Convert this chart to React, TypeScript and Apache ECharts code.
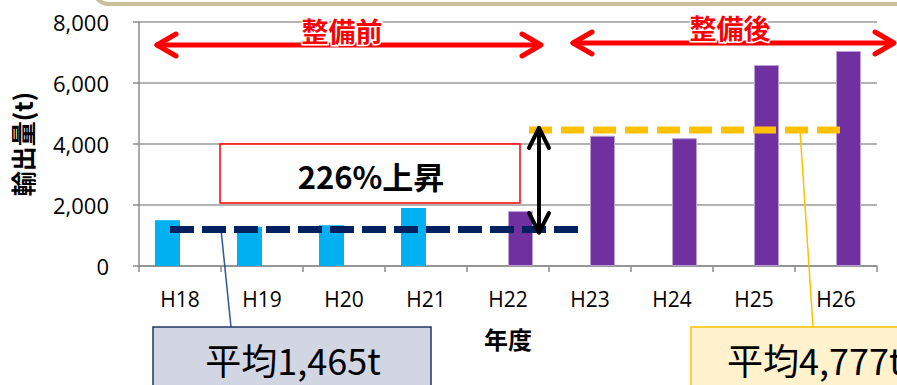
import React, { useEffect, useRef } from "react";
import * as echarts from "echarts";

const categories = ["H18", "H19", "H20", "H21", "H22", "H23", "H24", "H25", "H26"];
const beforeValues = [1500, 1290, 1340, 1900, null, null, null, null, null];
const afterValues = [null, null, null, null, 1800, 4270, 4190, 6590, 7050];
const yTicks = { min: 0, max: 8000, interval: 2000 };
const beforeAvgLine = 1200;
const afterAvgLine = 4460;
const beforeLabel = "平均1,465t";
const afterLabel = "平均4,777t";
const riseLabel = "226%上昇";

export default function App() {
  const ref = useRef<HTMLDivElement>(null);
  useEffect(() => {
    if (!ref.current) return;
    const chart = echarts.init(ref.current, undefined, { renderer: "svg" });
    const font = "'Noto Sans CJK JP', 'Noto Sans', sans-serif";
    const latin = "'Open Sans', 'Noto Sans', sans-serif";
    chart.setOption({
      animation: false,
      textStyle: { fontFamily: font },
      grid: { left: 139, right: 20, top: 22, bottom: 119 },
      xAxis: {
        type: "category",
        data: categories,
        name: "年度",
        nameLocation: "middle",
        nameGap: 60,
        nameTextStyle: { color: "#000", fontSize: 24, fontWeight: "bold", fontFamily: font },
        axisLine: { lineStyle: { color: "#8c8c8c", width: 1.5 } },
        axisTick: { show: true, length: 6, lineStyle: { color: "#8c8c8c", width: 1.5 } },
        axisLabel: { color: "#000", fontSize: 21, margin: 22, fontFamily: latin },
      },
      yAxis: {
        type: "value",
        min: yTicks.min,
        max: yTicks.max,
        interval: yTicks.interval,
        name: "輸出量(t)",
        nameLocation: "middle",
        nameRotate: 90,
        nameGap: 105,
        nameTextStyle: { color: "#000", fontSize: 25, fontWeight: "bold", fontFamily: font },
        axisLine: { show: true, lineStyle: { color: "#8c8c8c", width: 1.5 } },
        axisTick: { show: true, length: 6, lineStyle: { color: "#8c8c8c", width: 1.5 } },
        splitLine: { lineStyle: { color: "#9a9a9a", width: 1.5 } },
        axisLabel: {
          color: "#000",
          fontSize: 22,
          margin: 30,
          fontFamily: latin,
          formatter: (v: number) => v.toLocaleString("en-US"),
        },
      },
      series: [
        { type: "bar", data: beforeValues, barWidth: 25, barGap: "0%", itemStyle: { color: "#00b0f0" } },
        { type: "bar", data: afterValues, barWidth: 25, barGap: "0%", itemStyle: { color: "#7030a0", borderColor: "#b9a0d6", borderWidth: 1 } },
      ],
    });

    const yB = chart.convertToPixel({ yAxisIndex: 0 }, beforeAvgLine) as number;
    const yA = chart.convertToPixel({ yAxisIndex: 0 }, afterAvgLine) as number;
    const yTop = chart.convertToPixel({ yAxisIndex: 0 }, yTicks.max) as number;
    const yZero = chart.convertToPixel({ yAxisIndex: 0 }, 0) as number;
    const xH22 = chart.convertToPixel({ xAxisIndex: 0 }, "H22") as number;
    const xH23 = chart.convertToPixel({ xAxisIndex: 0 }, "H23") as number;
    const xSplit = (xH22 + xH23) / 2 + 9;
    const red = "#ff0000";
    const arrowStyle = { stroke: red, lineWidth: 5, lineCap: "round", lineJoin: "round", fill: null };

    chart.setOption({
      graphic: [
        { type: "rect", shape: { x: 93, y: -40, width: 840, height: 44, r: 16 }, style: { fill: "#fff", stroke: "#c8c09a", lineWidth: 4 }, z: 1 },
        { type: "line", shape: { x1: 170, y1: yB, x2: 578, y2: yB }, style: { stroke: "#002060", lineWidth: 7, lineDash: [24, 8] }, z: 10 },
        { type: "line", shape: { x1: 529, y1: yA, x2: 840, y2: yA }, style: { stroke: "#ffc000", lineWidth: 7, lineDash: [23, 9] }, z: 10 },
        { type: "line", shape: { x1: xSplit, y1: yTop - 2, x2: xSplit, y2: yZero + 18 }, style: { stroke: red, lineWidth: 7, lineDash: [22, 8], shadowBlur: 5, shadowColor: "rgba(0,0,0,0.45)" }, z: 12 },
        { type: "line", shape: { x1: 157, y1: 45, x2: 539, y2: 45 }, style: arrowStyle, z: 11 },
        { type: "polyline", shape: { points: [[176, 34], [157, 45], [176, 56]] }, style: arrowStyle, z: 11 },
        { type: "polyline", shape: { points: [[522, 34], [541, 45], [522, 56]] }, style: arrowStyle, z: 11 },
        { type: "line", shape: { x1: 573, y1: 43, x2: 893, y2: 43 }, style: arrowStyle, z: 11 },
        { type: "polyline", shape: { points: [[592, 32], [573, 43], [592, 54]] }, style: arrowStyle, z: 11 },
        { type: "polyline", shape: { points: [[875, 32], [894, 43], [875, 54]] }, style: arrowStyle, z: 11 },
        { type: "text", style: { text: "整備前", x: 342, y: 30, align: "center", verticalAlign: "middle", fill: red, font: `bold 27px ${font}`, stroke: "#fff", lineWidth: 3 }, z: 13 },
        { type: "text", style: { text: "整備後", x: 730, y: 27, align: "center", verticalAlign: "middle", fill: red, font: `bold 27px ${font}`, stroke: "#fff", lineWidth: 3 }, z: 13 },
        { type: "rect", shape: { x: 220, y: 144, width: 300, height: 59 }, style: { fill: "#fff", stroke: red, lineWidth: 1.5 }, z: 9 },
        { type: "text", style: { text: riseLabel, x: 371, y: 175, align: "center", verticalAlign: "middle", fill: "#000", font: `bold 31px ${font}` }, z: 9 },
        { type: "line", shape: { x1: 539, y1: yA - 2, x2: 539, y2: yB + 3 }, style: { stroke: "#000", lineWidth: 4, lineCap: "round" }, z: 14 },
        { type: "polyline", shape: { points: [[529, 148], [539, yA - 2], [549, 148]] }, style: { stroke: "#000", lineWidth: 4, lineCap: "round", lineJoin: "round", fill: null }, z: 14 },
        { type: "polyline", shape: { points: [[529, 213], [539, yB + 3], [549, 213]] }, style: { stroke: "#000", lineWidth: 4, lineCap: "round", lineJoin: "round", fill: null }, z: 14 },
        { type: "line", shape: { x1: 221, y1: yB, x2: 231, y2: 327 }, style: { stroke: "#2f5597", lineWidth: 1.5 }, z: 8 },
        { type: "rect", shape: { x: 153, y: 327, width: 278, height: 70 }, style: { fill: "#d2d6e3", stroke: "#1f3864", lineWidth: 1.5 }, z: 8 },
        { type: "text", style: { text: beforeLabel, x: 293, y: 359, align: "center", verticalAlign: "middle", fill: "#000", font: `36px ${font}` }, z: 8 },
        { type: "line", shape: { x1: 800, y1: yA, x2: 813, y2: 327 }, style: { stroke: "#ffc000", lineWidth: 1.5 }, z: 8 },
        { type: "rect", shape: { x: 691, y: 327, width: 230, height: 70 }, style: { fill: "#fff2cc", stroke: "#ffc000", lineWidth: 1.5 }, z: 8 },
        { type: "text", style: { text: afterLabel, x: 727, y: 359, align: "left", verticalAlign: "middle", fill: "#000", font: `36px ${font}` }, z: 8 },
      ],
    });
    return () => chart.dispose();
  }, []);
  return <div ref={ref} style={{ width: 897, height: 385, position: "absolute", left: 0, top: 0 }} />;
}
